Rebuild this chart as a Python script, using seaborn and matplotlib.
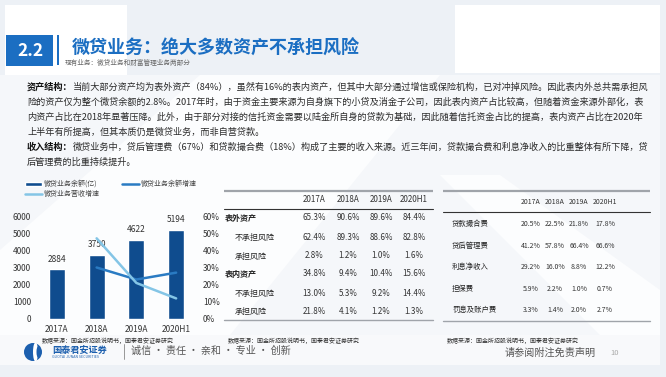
import matplotlib
matplotlib.use('Agg')
import matplotlib.pyplot as plt
import seaborn as sns
import pandas as pd
import numpy as np
from matplotlib.lines import Line2D
from matplotlib.patches import Rectangle, Polygon, Patch, Circle, Ellipse
from matplotlib.ticker import PercentFormatter

# ---------------- data ----------------
years = ['2017A', '2018A', '2019A', '2020H1']
balance = [2884, 3750, 4622, 5194]                 # 微贷业务余额(亿)
balance_growth = [np.nan, 0.30, 0.23, 0.27]        # 微贷业务余额增速
revenue_growth = [np.nan, 0.47, 0.21, 0.12]        # 微贷业务营收增速

asset_labels = ['表外资产', '不承担风险', '承担风险', '表内资产', '不承担风险', '承担风险']
asset_indent = [False, True, True, False, True, True]
off_bs = [65.3, 90.6, 89.6, 84.4]
off_no_risk = [62.4, 89.3, 88.6, 82.8]
off_risk = [2.8, 1.2, 1.0, 1.6]
on_bs = [34.8, 9.4, 10.4, 15.6]
on_no_risk = [13.0, 5.3, 9.2, 14.4]
on_risk = [21.8, 4.1, 1.2, 1.3]

rev_labels = ['贷款撮合费', '贷后管理费', '利息净收入', '担保费', '罚息及账户费']
matching_fee = [20.5, 22.5, 21.8, 17.8]
post_loan_fee = [41.2, 57.8, 66.4, 66.6]
net_interest = [29.2, 16.0, 8.8, 12.2]
guarantee_fee = [5.9, 2.2, 1.0, 0.7]
penalty_fee = [3.3, 1.4, 2.0, 2.7]

title = '微贷业务：绝大多数资产不承担风险'
subtitle = '现有业务：微贷业务和财富管理业务两部分'
para_lines = [
    ('资产结构：', '当前大部分资产均为表外资产（84%），虽然有16%的表内资产，但其中大部分通过增信或保险机构，已对冲掉风险。因此表内外总共需承担风'),
    ('', '险的资产仅为整个微贷余额的2.8%。2017年时，由于资金主要来源为自身旗下的小贷及消金子公司，因此表内资产占比较高，但随着资金来源外部化，表'),
    ('', '内资产占比在2018年显著压降。此外，由于部分对接的信托资金需要以陆金所自身的贷款为基础，因此随着信托资金占比的提高，表内资产占比在2020年'),
    ('', '上半年有所提高，但其本质仍是微贷业务，而非自营贷款。'),
    ('收入结构：', '微贷业务中，贷后管理费（67%）和贷款撮合费（18%）构成了主要的收入来源。近三年间，贷款撮合费和利息净收入的比重整体有所下降，贷'),
    ('', '后管理费的比重持续提升。'),
]
source = '数据来源：国金所招股说明书，国泰君安证券研究'

# ---------------- style ----------------
sns.set_theme(style='white')
plt.rcParams['font.family'] = ['Noto Sans CJK SC', 'DejaVu Sans']
plt.rcParams['axes.unicode_minus'] = False

W, H = 666, 377
BLUE = '#1b6ec2'
BAR = '#0f4c8e'
MID = '#2a7bc3'
LIGHT = '#84c5e6'
TXT = '#2b2b2b'

fig = plt.figure(figsize=(6.66, 3.77), dpi=100)
fig.patch.set_facecolor('#edf1f6')

bg = fig.add_axes([0, 0, 1, 1], zorder=0)
bg.set_xlim(0, W)
bg.set_ylim(H, 0)
bg.axis('off')

# background shapes (soft diagonal panels)
bg.add_patch(Rectangle((0, 75), 660, 260, color='#f5f7fa', lw=0))
bg.add_patch(Polygon([(0, 250), (200, 75), (440, 75), (230, 335), (0, 335)], closed=True, color='#fcfdfe', lw=0))
bg.add_patch(Polygon([(440, 175), (500, 175), (660, 290), (660, 335), (600, 335)], closed=True, color='#fcfdfe', lw=0))
bg.add_patch(Rectangle((5, 5), 122, 70, color='white', lw=0))
bg.add_patch(Rectangle((455, 5), 205, 68, color='white', lw=0))
bg.add_patch(Rectangle((0, 335), 660, 30, color='#f8f9fb', lw=0))

# title block
bg.add_patch(Rectangle((6, 35), 47, 31, color=BLUE, lw=0))
bg.text(30, 51, '2.2', color='white', fontsize=12.5, fontweight='bold', ha='center', va='center')
bg.add_patch(Rectangle((57, 35), 2.2, 30, color=BLUE, lw=0))
bg.text(72, 48, title, color=BLUE, fontsize=13, fontweight='bold', ha='left', va='center')
bg.text(65, 63, subtitle, color='#666666', fontsize=4.8, ha='left', va='center')

# paragraph
fig.canvas.draw()
r = fig.canvas.get_renderer()
ys = [87, 102, 117, 132, 147, 162]
for (bold, rest), y in zip(para_lines, ys):
    x = 27
    if bold:
        t = bg.text(x, y, bold, fontsize=6.6, fontweight='bold', color='#111111', ha='left', va='center')
        x += t.get_window_extent(renderer=r).width
    bg.text(x, y, rest, fontsize=6.6, color=TXT, ha='left', va='center')

# ---------------- chart ----------------
ax = fig.add_axes([37 / W, 1 - 319 / H, 159 / W, 103 / H], zorder=2)
ax.patch.set_alpha(0)
df = pd.DataFrame({'year': years, 'balance': balance})
sns.barplot(data=df, x='year', y='balance', color=BAR, width=0.4, saturation=1, ax=ax)
ax.set_ylim(0, 6000)
ax.set_yticks(range(0, 6001, 1000))
ax.bar_label(ax.containers[0], fmt='%d', padding=4, fontsize=6, color='#333333')
for s in ax.spines.values():
    s.set_visible(False)
ax.tick_params(axis='y', length=0, labelsize=6, colors='#333333', pad=4.3)
ax.tick_params(axis='x', length=0, labelsize=6, colors='#333333', pad=4)
ax.set_xlabel('')
ax.set_ylabel('')

pos = np.arange(len(years))
ax2 = ax.twinx()
sns.lineplot(x=pos[1:], y=balance_growth[1:], color=MID, lw=1.8, ax=ax2)
sns.lineplot(x=pos[1:], y=revenue_growth[1:], color=LIGHT, lw=1.8, ax=ax2)
ax2.set_ylim(0, 0.6)
ax2.set_yticks(np.arange(0, 0.61, 0.1))
ax2.yaxis.set_major_formatter(PercentFormatter(1.0, decimals=0))
for s in ax2.spines.values():
    s.set_visible(False)
ax2.tick_params(axis='y', length=0, labelsize=6, colors='#333333', pad=5)
ax2.set_ylabel('')
ax2.grid(False)
ax.grid(False)
ax.set_xlim(-0.5, 3.5)

handles = [Patch(facecolor=BAR), Line2D([], [], color=LIGHT, lw=1.8), Line2D([], [], color=MID, lw=1.8)]
labels = ['微贷业务余额(亿)', '微贷业务营收增速', '微贷业务余额增速']
leg = fig.legend(handles, labels, ncol=2, loc='upper left', bbox_to_anchor=(25 / W, 1 - 180 / H),
                 fontsize=5, frameon=False, handlelength=2.4, handleheight=0.5, columnspacing=3.2,
                 labelspacing=0.25, handletextpad=0.3, borderaxespad=0, borderpad=0)
for t in leg.get_texts():
    t.set_color('#444444')

# ---------------- middle table ----------------
bg.plot([224, 433], [190.5, 190.5], color='#a0a4aa', lw=1.6, solid_capstyle='butt')
mid_cols = [314, 348, 381, 414]
for x, yr in zip(mid_cols, years):
    bg.text(x, 200, yr, fontsize=5.8, color='#333333', ha='center', va='center')
bg.plot([224, 433], [209, 209], color='#333333', lw=0.8)
asset_vals = [off_bs, off_no_risk, off_risk, on_bs, on_no_risk, on_risk]
for lab, ind, vals, y in zip(asset_labels, asset_indent, asset_vals, [218, 237, 256, 274, 293, 311]):
    bg.text(235 if ind else 225, y, lab, fontsize=5.8, color='#222222',
            fontweight='normal' if ind else 'bold', ha='left', va='center')
    for x, v in zip(mid_cols, vals):
        bg.text(x, y, f'{v:.1f}%', fontsize=5.8, color='#333333', ha='center', va='center')
bg.plot([224, 433], [320, 320], color='#a0a4aa', lw=1.0)

# ---------------- right table ----------------
bg.plot([443, 650], [190.5, 190.5], color='#a0a4aa', lw=1.6, solid_capstyle='butt')
right_cols = [531, 555, 579, 605]
for x, yr in zip(right_cols, years):
    bg.text(x, 202, yr, fontsize=5.0, color='#333333', ha='center', va='center')
bg.plot([443, 650], [212, 212], color='#333333', lw=0.8)
rev_vals = [matching_fee, post_loan_fee, net_interest, guarantee_fee, penalty_fee]
for lab, vals, y in zip(rev_labels, rev_vals, [224, 246, 267, 289, 310]):
    bg.text(452, y, lab, fontsize=5.3, color='#222222', ha='left', va='center')
    for x, v in zip(right_cols, vals):
        bg.text(x, y, f'{v:.1f}%', fontsize=5.0, color='#333333', ha='center', va='center')
bg.plot([443, 650], [321, 321], color='#a0a4aa', lw=1.0)

# sources
for x in [42, 228, 447]:
    bg.text(x, 341, source, fontsize=4.3, color='#333333', ha='left', va='center')

# ---------------- footer ----------------
bg.add_patch(Circle((33, 352), 9, color='#1c5fae', lw=0))
bg.add_patch(Ellipse((35.5, 352), 5, 19, color='white', lw=0))
bg.add_patch(Ellipse((38.5, 352), 4, 12, color='#1c5fae', lw=0))
bg.text(52, 350, '国泰君安证券', fontsize=6.6, fontweight='bold', color='#1c5fae', ha='left', va='center')
bg.text(52, 357.5, 'GUOTAI JUNAN SECURITIES', fontsize=2.6, color='#1c5fae', ha='left', va='center')
bg.plot([124, 124], [344, 359], color='#888888', lw=0.6)
bg.text(131, 351, '诚信 · 责任 · 亲和 · 专业 · 创新', fontsize=7.3, color='#555555', ha='left', va='center')
bg.text(505, 353, '请参阅附注免责声明', fontsize=7.3, color='#555555', ha='left', va='center')
bg.text(610, 353, '10', fontsize=5.5, color='#aaaaaa', ha='left', va='center')

fig.savefig('out.png', dpi=100, facecolor=fig.get_facecolor())
